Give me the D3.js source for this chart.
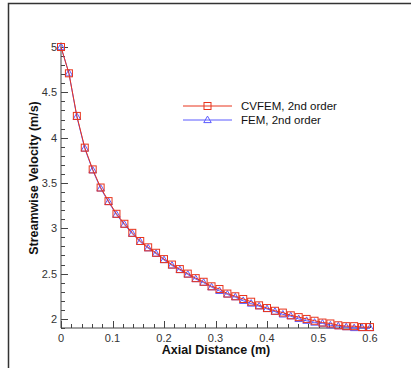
<!DOCTYPE html>
<html lang="en">
<head>
<meta charset="UTF-8">
<title>Streamwise Velocity</title>
<script src="https://d3js.org/d3.v7.min.js"></script>
<style>
    body { margin: 0; background: #fff; font-family: 'Liberation Sans', Arial, sans-serif; }
    .tick-label { font-size: 11px; fill: #333; }
    .axis-title { font-size: 12.5px; font-weight: bold; fill: #111; }
    .legend-text { font-size: 11.5px; fill: #111; }
</style>
</head>
<body>
<svg id="chart" width="411" height="368"></svg>
<script>
    // 40 points from 0 to 0.6 m
    const nPoints = 40;
    const xValues = d3.range(nPoints).map(i => i * 0.6 / (nPoints - 1));

    const cvfem = [5.00, 4.71, 4.24, 3.89, 3.65, 3.45, 3.30, 3.16, 3.05, 2.95,
                   2.86, 2.79, 2.73, 2.66, 2.60, 2.55, 2.50, 2.45, 2.41, 2.36,
                   2.33, 2.28, 2.25, 2.22, 2.19, 2.15, 2.12, 2.09, 2.07, 2.04,
                   2.02, 2.00, 1.98, 1.96, 1.95, 1.93, 1.92, 1.92, 1.91, 1.91];
    const fem   = [5.00, 4.71, 4.23, 3.88, 3.64, 3.44, 3.29, 3.15, 3.04, 2.94,
                   2.85, 2.78, 2.72, 2.65, 2.59, 2.54, 2.49, 2.44, 2.40, 2.35,
                   2.31, 2.27, 2.24, 2.20, 2.17, 2.14, 2.11, 2.08, 2.05, 2.03,
                   2.00, 1.98, 1.96, 1.95, 1.93, 1.92, 1.91, 1.90, 1.90, 1.90];

    const seriesNames = ["CVFEM, 2nd order", "FEM, 2nd order"];
    const xTicks = [0, 0.1, 0.2, 0.3, 0.4, 0.5, 0.6];
    const yTicks = [2, 2.5, 3, 3.5, 4, 4.5, 5];

    const red = "#e8341c", blue = "#5b5bff";
    const svg = d3.select("#chart");

    // frame (top and left edges)
    svg.append("path")
        .attr("d", "M8.5,368 V3.5 H411")
        .attr("fill", "none").attr("stroke", "#333").attr("stroke-width", 1.5);

    const x = d3.scaleLinear().domain([0, 0.6]).range([61, 370]);
    const y = d3.scaleLinear().domain([1.9, 5.05]).range([328, 42.5]);

    const axisColor = "#444";

    // x axis with inward ticks
    const gx = svg.append("g");
    gx.append("line").attr("x1", x(0)).attr("x2", x(0.6))
        .attr("y1", y(1.9)).attr("y2", y(1.9)).attr("stroke", axisColor);
    const xMinor = d3.range(0, 0.6001, 0.02);
    gx.selectAll(".xm").data(xMinor).enter().append("line")
        .attr("x1", d => Math.round(x(d)) + 0.5).attr("x2", d => Math.round(x(d)) + 0.5)
        .attr("y1", y(1.9)).attr("y2", d => y(1.9) - (Math.abs(d * 10 - Math.round(d * 10)) < 1e-6 ? 7 : 4))
        .attr("stroke", axisColor);
    gx.selectAll(".xl").data(xTicks).enter().append("text")
        .attr("class", "tick-label")
        .attr("x", d => x(d)).attr("y", 342)
        .attr("text-anchor", "middle")
        .text(d => d3.format("")(d));

    // y axis with inward ticks
    const gy = svg.append("g");
    gy.append("line").attr("x1", x(0)).attr("x2", x(0))
        .attr("y1", y(1.9)).attr("y2", y(5.05)).attr("stroke", axisColor);
    const yMinor = d3.range(1.9, 5.0501, 0.1);
    gy.selectAll(".ym").data(yMinor).enter().append("line")
        .attr("y1", d => Math.round(y(d)) + 0.5).attr("y2", d => Math.round(y(d)) + 0.5)
        .attr("x1", x(0)).attr("x2", d => x(0) + (Math.abs(d * 2 - Math.round(d * 2)) < 1e-6 ? 7 : 4))
        .attr("stroke", axisColor);
    gy.selectAll(".yl").data(yTicks).enter().append("text")
        .attr("class", "tick-label")
        .attr("x", 57).attr("y", d => y(d) + 4)
        .attr("text-anchor", "end")
        .text(d => d3.format("")(d));

    // axis titles
    svg.append("text").attr("class", "axis-title")
        .attr("x", 216).attr("y", 354).attr("text-anchor", "middle")
        .text("Axial Distance (m)");
    svg.append("text").attr("class", "axis-title")
        .attr("transform", "translate(38,178) rotate(-90)")
        .attr("text-anchor", "middle")
        .text("Streamwise Velocity (m/s)");

    const line = d3.line().x((d, i) => x(xValues[i])).y(d => y(d));

    function square(g, cx, cy, color) {
        g.append("rect").attr("x", cx - 3.5).attr("y", cy - 3.5)
            .attr("width", 7).attr("height", 7)
            .attr("fill", "none").attr("stroke", color).attr("stroke-width", 1);
    }
    function triangle(g, cx, cy, color) {
        const s = 7.5, h = s * 0.866;
        g.append("path")
            .attr("d", `M${cx},${cy - h * 0.6} L${cx + s / 2},${cy + h * 0.4} L${cx - s / 2},${cy + h * 0.4} Z`)
            .attr("fill", "none").attr("stroke", color).attr("stroke-width", 1);
    }

    // FEM series
    const gFem = svg.append("g");
    gFem.append("path").datum(fem).attr("d", line)
        .attr("fill", "none").attr("stroke", blue).attr("stroke-width", 1);
    fem.forEach((v, i) => triangle(gFem, x(xValues[i]), y(v), blue));

    // CVFEM series
    const gCv = svg.append("g");
    gCv.append("path").datum(cvfem).attr("d", line)
        .attr("fill", "none").attr("stroke", red).attr("stroke-width", 1);
    cvfem.forEach((v, i) => square(gCv, x(xValues[i]), y(v), red));

    // legend
    const legend = svg.append("g");
    [red, blue].forEach((c, i) => {
        const ly = 106 + i * 14;
        legend.append("line").attr("x1", 183).attr("x2", 232)
            .attr("y1", ly).attr("y2", ly).attr("stroke", c);
        if (i === 0) square(legend, 207.5, ly, c); else triangle(legend, 207.5, ly, c);
        legend.append("text").attr("class", "legend-text")
            .attr("x", 241).attr("y", ly + 4).text(seriesNames[i]);
    });
</script>
</body>
</html>
